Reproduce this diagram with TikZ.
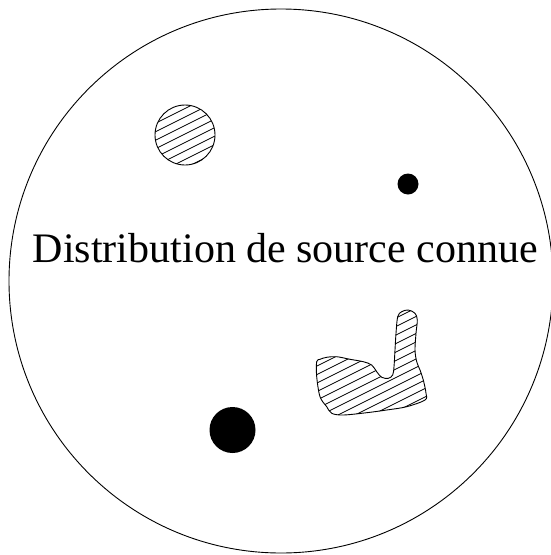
\documentclass[tikz,border=0pt]{standalone}
\usepackage{fontspec}
\setmainfont{Liberation Serif}
\tikzset{
  outline/.style={draw=black, line width=0.9pt},
  hatch/.style={draw=black, line width=0.8pt},
  dot/.style={fill=black}
}
% irregular hatched region
\def\blobpath{plot[smooth cycle, tension=0.55] coordinates {
  (316.7,361.7) (316.7,376.7) (320,396.7) (326.7,406.7) (331.7,413.3)
  (343.3,415) (366.7,412.7) (386.7,410) (406.7,406.7) (425,400)
  (426,393.3) (423.3,380) (420,370) (416.7,361.7) (415,350)
  (416,333.3) (417.3,320) (415,313.3) (408.3,310) (401.7,311.7)
  (397.7,316.7) (396,333.3) (395,350) (394,366.7) (392.7,375)
  (388.3,378.3) (381.7,377.3) (376.7,371.7) (371.7,365) (363.3,361.7)
  (350,359.3) (336.7,356.7) (326.7,357.3) (320,359.3)}}
\begin{document}
\begin{tikzpicture}[x=1pt,y=-1pt]
\useasboundingbox (0,0) rectangle (551,555);

% large enclosing circle, cut by the right border
\begin{scope}
  \clip (0,0) rectangle (551,555);
  \draw[outline] (281,281) circle[radius=272pt];
\end{scope}

% hatched disc
\begin{scope}
  \clip (185,135) circle[radius=30pt];
  \foreach \k in {-12,...,12}
    \draw[hatch] (140,{148+8.5*\k}) -- ++(100,-50);
\end{scope}
\draw[outline] (185,135) circle[radius=30pt];

% solid point sources
\fill[dot] (408,184) circle[radius=10.5pt];
\fill[dot] (232.5,430) circle[radius=23pt];

% hatched irregular region
\begin{scope}
  \clip \blobpath;
  \foreach \k in {-6,...,16}
    \draw[hatch] (300,{400+8.5*\k}) -- ++(140,-70);
\end{scope}
\draw[outline] \blobpath;

% label
\node[anchor=base, inner sep=0pt, font=\fontsize{42}{50}\selectfont] (label)
  at (285.5,262) {Distribution de source connue};
\end{tikzpicture}
\end{document}
